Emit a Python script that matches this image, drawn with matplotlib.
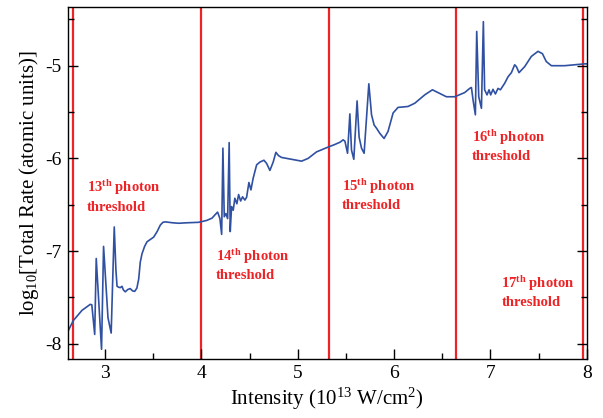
import matplotlib
matplotlib.use("Agg")
import matplotlib.pyplot as plt

plt.rcParams['font.family'] = ['Liberation Serif', 'DejaVu Serif']
plt.rcParams['mathtext.fontset'] = 'custom'
plt.rcParams['mathtext.rm'] = 'Liberation Serif'
plt.rcParams['mathtext.it'] = 'Liberation Serif:italic'
plt.rcParams['mathtext.bf'] = 'Liberation Serif:bold'
plt.rcParams['axes.unicode_minus'] = False

# ---- data ----
intensity = [2.61, 2.67, 2.76, 2.846, 2.862, 2.892, 2.908, 2.963, 2.984, 3.03,
             3.063, 3.095, 3.112, 3.124, 3.14, 3.158, 3.175, 3.19, 3.21, 3.235,
             3.261, 3.285, 3.307, 3.33, 3.349, 3.365, 3.383, 3.41, 3.435, 3.47,
             3.504, 3.54, 3.573, 3.60, 3.625, 3.70, 3.764, 3.85, 3.97, 4.054,
             4.11, 4.14, 4.168, 4.192, 4.21, 4.223, 4.237, 4.254, 4.272, 4.288,
             4.299, 4.313, 4.33, 4.347, 4.368, 4.386, 4.407, 4.427, 4.451, 4.469,
             4.493, 4.514, 4.537, 4.573, 4.607, 4.649, 4.677, 4.711, 4.745, 4.773,
             4.80, 4.832, 4.936, 5.04, 5.108, 5.195, 5.299, 5.385, 5.44, 5.471,
             5.49, 5.517, 5.541, 5.558, 5.582, 5.616, 5.637, 5.662, 5.689, 5.738,
             5.766, 5.793, 5.818, 5.852, 5.896, 5.937, 5.99, 6.041, 6.145, 6.215,
             6.318, 6.398, 6.474, 6.543, 6.63, 6.733, 6.785, 6.803, 6.82, 6.844,
             6.858, 6.879, 6.907, 6.927, 6.94, 6.965, 6.986, 7.003, 7.027, 7.052,
             7.079, 7.104, 7.148, 7.183, 7.218, 7.252, 7.27, 7.297, 7.356, 7.425,
             7.494, 7.54, 7.58, 7.633, 7.77, 7.98, 8.0]
log_rate = [-7.875, -7.75, -7.64, -7.575, -7.58, -7.90, -7.08, -8.06, -6.95, -7.72,
            -7.885, -6.74, -7.2, -7.38, -7.39, -7.395, -7.38, -7.42, -7.44, -7.415,
            -7.405, -7.43, -7.435, -7.40, -7.30, -7.12, -7.03, -6.95, -6.90, -6.875,
            -6.85, -6.79, -6.72, -6.69, -6.685, -6.695, -6.70, -6.695, -6.69, -6.67,
            -6.645, -6.61, -6.58, -6.65, -6.82, -5.89, -6.63, -6.595, -6.65, -5.83,
            -6.79, -6.52, -6.56, -6.43, -6.49, -6.39, -6.46, -6.415, -6.45, -6.42,
            -6.26, -6.34, -6.215, -6.07, -6.04, -6.02, -6.055, -6.13, -6.04, -5.935,
            -5.97, -5.99, -6.01, -6.03, -6.0, -5.93, -5.885, -5.85, -5.825, -5.80,
            -5.815, -5.945, -5.52, -5.91, -6.01, -5.38, -5.77, -5.89, -5.945, -5.195,
            -5.53, -5.64, -5.675, -5.73, -5.785, -5.71, -5.51, -5.45, -5.44, -5.405,
            -5.315, -5.26, -5.30, -5.335, -5.335, -5.29, -5.245, -5.235, -5.37, -5.53,
            -4.63, -5.335, -5.46, -4.525, -5.26, -5.315, -5.26, -5.315, -5.255, -5.305,
            -5.245, -5.26, -5.19, -5.12, -5.075, -4.99, -5.01, -5.075, -5.01, -4.90,
            -4.845, -4.87, -4.955, -5.0, -5.0, -4.98, -4.98]

thresholds = [2.67, 4.0, 5.32, 6.64, 7.96]
threshold_orders = ['13', '14', '15', '16', '17']
label_x = [2.81, 4.15, 5.46, 6.805, 7.114]
label_y = [-6.32, -7.06, -6.30, -5.78, -7.35]

x_ticks = [3, 4, 5, 6, 7, 8]
y_ticks = [-8, -7, -6, -5]

# ---- figure ----
fig = plt.figure(figsize=(6.03, 4.18), dpi=100)
ax = fig.add_axes([0.112, 0.140, 0.861, 0.8425])

red = '#ee2326'
blue = '#3050a2'

for t in thresholds:
    ax.axvline(t, color=red, lw=1.6, zorder=1)

ax.plot(intensity, log_rate, color=blue, lw=1.2, zorder=2)

for order, lx, ly in zip(threshold_orders, label_x, label_y):
    ax.text(lx, ly, order + r'$^{\mathbf{th}}$ photon', color=red, fontsize=10.5,
            fontweight='bold', ha='left', va='center')
    ax.text(lx, ly - 0.205, 'threshold', color=red, fontsize=10.5,
            fontweight='bold', ha='left', va='center')

ax.set_xlim(2.61, 8.0)
ax.set_ylim(-8.17, -4.37)
ax.set_xticks(x_ticks)
ax.set_xticks([3.5, 4.5, 5.5, 6.5, 7.5], minor=True)
ax.set_yticks(y_ticks)
ax.set_yticks([-7.5, -6.5, -5.5, -4.5], minor=True)
ax.set_yticklabels([str(v) for v in y_ticks])

ax.tick_params(axis='both', which='both', direction='in', labelsize=14,
               top=False, right=True)
ax.tick_params(axis='both', which='major', length=7, width=1)
ax.tick_params(axis='both', which='minor', length=4, width=1)
ax.tick_params(axis='x', pad=4)
ax.tick_params(axis='y', pad=4)

for s in ax.spines.values():
    s.set_linewidth(1.0)

ax.set_xlabel(r'Intensity (10$^{13}$ W/cm$^{2}$)', fontsize=15, labelpad=3)
ax.set_ylabel(r'log$_{10}$[Total Rate (atomic units)]', fontsize=15, labelpad=3)

fig.savefig('out.png', dpi=100)
